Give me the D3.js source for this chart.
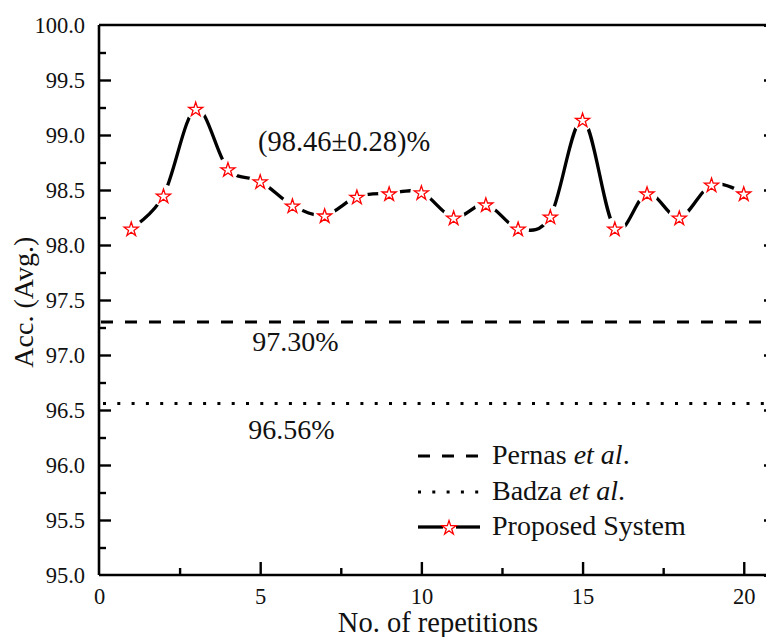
<!DOCTYPE html>
<html>
<head>
<meta charset="utf-8">
<script src="https://cdn.jsdelivr.net/npm/d3@7"></script>
<style>
  html, body { margin: 0; padding: 0; background: #fff; }
  svg text { font-family: "Liberation Serif", Tinos, "DejaVu Serif", serif !important; }
</style>
</head>
<body>
<div id="chart"></div>
<script>
// data
const repetitions = d3.range(1, 21);
const accuracy = [98.15, 98.45, 99.24, 98.69, 98.58, 98.36, 98.27, 98.44, 98.47, 98.48,
                  98.25, 98.37, 98.15, 98.26, 99.14, 98.15, 98.47, 98.25, 98.55, 98.47];
const pernas = 97.30;
const badza = 96.56;
const yTicks = [95.0, 95.5, 96.0, 96.5, 97.0, 97.5, 98.0, 98.5, 99.0, 99.5, 100.0];
const xTicks = [0, 5, 10, 15, 20];
const legendItems = ['Pernas', 'Badza', 'Proposed System'];

const width = 766, height = 637;
const margin = { top: 25, right: -10, bottom: 62, left: 99 };

const svg = d3.select('#chart').append('svg')
  .attr('width', width)
  .attr('height', height);

const x = d3.scaleLinear().domain([0, 21]).range([margin.left, width - margin.right]);
const y = d3.scaleLinear().domain([95, 100]).range([height - margin.bottom, margin.top]);

const ink = '#111';

// axes
const xAxis = svg.append('g').attr('transform', `translate(0,${y(95)})`)
  .call(d3.axisBottom(x).tickValues(xTicks).tickSize(-13).tickPadding(13).tickFormat(d3.format('d')));
xAxis.selectAll('.tick').filter(d => d === 0).select('line').remove();
svg.append('g').attr('transform', `translate(0,${y(95)})`)
  .call(d3.axisBottom(x).tickValues([2.5, 7.5, 12.5, 17.5]).tickSize(-7).tickFormat(''))
  .call(g => g.select('.domain').remove());

const yAxis = svg.append('g').attr('transform', `translate(${x(0)},0)`)
  .call(d3.axisLeft(y).tickValues(yTicks).tickSize(-12).tickPadding(14).tickFormat(d3.format('.1f')));
yAxis.selectAll('.tick').filter(d => d === 95 || d === 100).select('line').remove();
svg.append('g').attr('transform', `translate(${x(0)},0)`)
  .call(d3.axisLeft(y).tickValues(d3.range(95.25, 100, 0.5)).tickSize(-7).tickFormat(''))
  .call(g => g.select('.domain').remove());

// right axis (ticks only, frame edge falls outside the picture)
svg.append('g').attr('transform', `translate(${x(21)},0)`)
  .call(d3.axisRight(y).tickValues(yTicks).tickSize(-12).tickFormat(''));

// top frame
svg.append('line')
  .attr('x1', x(0)).attr('x2', x(21))
  .attr('y1', y(100)).attr('y2', y(100));

svg.selectAll('.domain, line').attr('stroke', '#000').attr('stroke-width', 2.6);
svg.selectAll('.tick line').attr('stroke-width', 2.4);
svg.selectAll('.tick text').attr('fill', ink).style('font-size', '22.5px');

// axis domain paths without outer ticks
xAxis.select('.domain').attr('d', `M${x(0)},0H${x(21)}`);
yAxis.select('.domain').attr('d', `M0,${y(95)}V${y(100)}`);

// axis titles
svg.append('text')
  .attr('transform', `translate(33,${y(97.48)}) rotate(-90)`)
  .attr('text-anchor', 'middle')
  .attr('fill', ink)
  .style('font-size', '28px')
  .text('Acc. (Avg.)');

svg.append('text')
  .attr('x', 438).attr('y', 632)
  .attr('text-anchor', 'middle')
  .attr('fill', ink)
  .style('font-size', '28.5px')
  .text('No. of repetitions');

// reference lines
svg.append('line')
  .attr('x1', x(0) + 2).attr('x2', x(21))
  .attr('y1', y(pernas)).attr('y2', y(pernas))
  .attr('stroke', '#000').attr('stroke-width', 3)
  .attr('stroke-dasharray', '12,12');

svg.append('line')
  .attr('x1', x(0) + 4).attr('x2', x(21))
  .attr('y1', y(badza)).attr('y2', y(badza))
  .attr('stroke', '#000').attr('stroke-width', 3)
  .attr('stroke-dasharray', '3,11.3');

svg.append('text')
  .attr('x', x(4.75)).attr('y', y(pernas) + 29)
  .attr('fill', ink).style('font-size', '28px')
  .text(d3.format('.2f')(pernas) + '%');

svg.append('text')
  .attr('x', x(4.63)).attr('y', y(badza) + 36)
  .attr('fill', ink).style('font-size', '28px')
  .text(d3.format('.2f')(badza) + '%');

// proposed system
const pts = repetitions.map((r, i) => [r, accuracy[i]]);
const line = d3.line()
  .x(d => x(d[0]))
  .y(d => y(d[1]))
  .curve(d3.curveCardinal.tension(0));

svg.append('path')
  .datum(pts)
  .attr('fill', 'none')
  .attr('stroke', '#000')
  .attr('stroke-width', 3.3)
  .attr('d', line);

// gaps around markers
svg.append('g').selectAll('circle')
  .data(pts)
  .join('circle')
  .attr('cx', d => x(d[0]))
  .attr('cy', d => y(d[1]))
  .attr('r', 11)
  .attr('fill', '#fff');

const star = d3.symbol().type(d3.symbolStar).size(62);
svg.append('g').selectAll('path')
  .data(pts)
  .join('path')
  .attr('transform', d => `translate(${x(d[0])},${y(d[1]) + 1})`)
  .attr('d', star)
  .attr('fill', '#fff')
  .attr('stroke', '#f00')
  .attr('stroke-width', 1.3);

// mean ± std annotation
const mean = d3.mean(accuracy);
const sd = 0.28;
svg.append('text')
  .attr('x', x(4.93)).attr('y', y(98.855))
  .attr('fill', ink).style('font-size', '28.5px')
  .text(`(${d3.format('.2f')(mean)}±${d3.format('.2f')(sd)})%`);

// legend
const legend = svg.append('g');
const rowY = [456, 492, 527];
const lx0 = 418, lx1 = 480, tx = 492;

legend.append('line')
  .attr('x1', lx0).attr('x2', lx1).attr('y1', rowY[0]).attr('y2', rowY[0])
  .attr('stroke', '#000').attr('stroke-width', 3).attr('stroke-dasharray', '12,12');
legend.append('line')
  .attr('x1', lx0).attr('x2', lx1).attr('y1', rowY[1]).attr('y2', rowY[1])
  .attr('stroke', '#000').attr('stroke-width', 3).attr('stroke-dasharray', '3,11.3');
legend.append('line')
  .attr('x1', lx0).attr('x2', 443).attr('y1', rowY[2]).attr('y2', rowY[2])
  .attr('stroke', '#000').attr('stroke-width', 3.3);
legend.append('line')
  .attr('x1', 456).attr('x2', lx1).attr('y1', rowY[2]).attr('y2', rowY[2])
  .attr('stroke', '#000').attr('stroke-width', 3.3);
legend.append('path')
  .attr('transform', `translate(449,${rowY[2] + 1})`)
  .attr('d', star)
  .attr('fill', '#fff')
  .attr('stroke', '#f00')
  .attr('stroke-width', 1.3);

legendItems.forEach((name, i) => {
  const t = legend.append('text')
    .attr('x', tx).attr('y', rowY[i] + 8)
    .attr('fill', ink).style('font-size', '28px');
  if (i < 2) {
    t.append('tspan').text(name + ' ');
    t.append('tspan').style('font-style', 'italic').text('et al');
    t.append('tspan').text('.');
  } else {
    t.text(name);
  }
});
</script>
</body>
</html>
